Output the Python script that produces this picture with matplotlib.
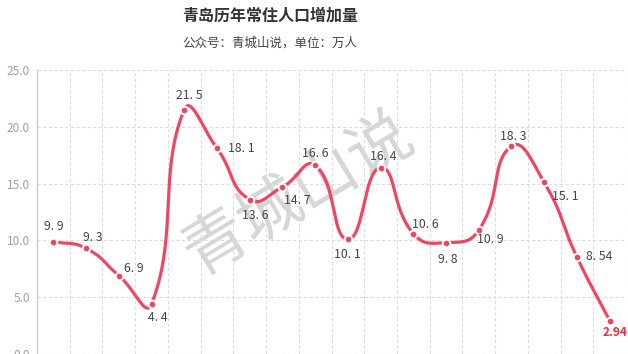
import numpy as np
import matplotlib
matplotlib.use('Agg')
import matplotlib.pyplot as plt

plt.rcParams['font.family'] = ['Noto Sans CJK SC', 'DejaVu Sans']

# 常住人口增加量, 万人
values = [9.9, 9.3, 6.9, 4.4, 21.5, 18.1, 13.6, 14.7, 16.6, 10.1,
          16.4, 10.6, 9.8, 10.9, 18.3, 15.1, 8.54, 2.94]
labels = ['9.9', '9.3', '6.9', '4.4', '21.5', '18.1', '13.6', '14.7', '16.6', '10.1',
          '16.4', '10.6', '9.8', '10.9', '18.3', '15.1', '8.54', '2.94']
# label offsets in pixels (dx, dy up)
offsets = [(0, 15), (7, 11), (15, 7), (6, -13), (5, 14), (24, 0), (6, -16), (15, -13),
           (0, 12), (0, -15), (3, 11), (12, 9), (2, -17), (12, -9), (2, 10), (21, -14),
           (22, 0), (5, -12)]
yticks = [0, 5, 10, 15, 20, 25]

line_color = '#EE4763'

fig = plt.figure(figsize=(6.28, 3.54), dpi=100)
ax = fig.add_axes([37 / 628, 0.0, 589 / 628, 284 / 354])
n = len(values)
x = np.arange(n)
ax.set_xlim(-0.5, n - 0.5)
ax.set_ylim(0, 25)

# echarts-like smooth bezier, done in pixel space
pts = ax.transData.transform(np.column_stack([x, values]))
smooth = 0.5


def ctrl(i):
    p = pts[i]
    prev = pts[i - 1] if i > 0 else p
    nxt = pts[i + 1] if i < n - 1 else p
    v = (nxt - prev) * smooth
    d0 = np.hypot(*(p - prev))
    d1 = np.hypot(*(nxt - p))
    s = d0 + d1
    if s == 0:
        return p, p
    return p - v * d0 / s, p + v * d1 / s


curve = []
t = np.linspace(0, 1, 40)[:, None]
for i in range(n - 1):
    p0 = pts[i]
    p3 = pts[i + 1]
    p1 = ctrl(i)[1]
    p2 = ctrl(i + 1)[0]
    seg = ((1 - t) ** 3) * p0 + 3 * ((1 - t) ** 2) * t * p1 + 3 * (1 - t) * t ** 2 * p2 + t ** 3 * p3
    curve.append(seg)
curve = np.vstack(curve)
cdata = ax.transData.inverted().transform(curve)

ax.plot(cdata[:, 0], cdata[:, 1], color=line_color, lw=2.3, solid_capstyle='round', zorder=3)
ax.plot(x, values, 'o', color=line_color, ms=5.5, mec='white', mew=1.4, zorder=4)

for i in range(n):
    dx, dy = offsets[i]
    if i == n - 1:
        ax.annotate(labels[i], (x[i], values[i]), xytext=(dx * 0.72, dy * 0.72),
                    textcoords='offset points', ha='center', va='center',
                    fontsize=8.5, color='#F0283C', fontweight='bold', zorder=5)
    else:
        ax.annotate(labels[i].replace('.', '. '), (x[i], values[i]), xytext=(dx * 0.72, dy * 0.72),
                    textcoords='offset points', ha='center', va='center',
                    fontsize=8.8, color='#444444', zorder=5)

# grid
ax.set_yticks(yticks)
ax.set_yticklabels(['%.1f' % v for v in yticks])
ax.set_xticks(np.arange(-0.5, n + 0.5, 1))
ax.set_xticklabels([])
ax.grid(True, ls=(0, (3, 2)), color='#DDDDDD', lw=0.8, zorder=0)
ax.tick_params(axis='both', length=0, pad=5, labelsize=8.5, labelcolor='#A0A0A0')
for s in ['top', 'right', 'bottom']:
    ax.spines[s].set_visible(False)
ax.spines['left'].set_color('#CCCCCC')
ax.spines['left'].set_linewidth(1)

# watermark, below the line
ax.text(298 / 628, 1 - 194 / 354, '青城山说', transform=fig.transFigure, fontsize=46,
        fontweight='light', color='#D6D6D6', rotation=31, ha='center', va='center', zorder=1)

fig.text(270 / 628, 1 - 16 / 354, '青岛历年常住人口增加量', fontsize=11.5, fontweight='bold',
         color='#333333', ha='center', va='center')
fig.text(270 / 628, 1 - 43 / 354, '公众号：青城山说，单位：万人', fontsize=9,
         color='#444444', ha='center', va='center')

fig.savefig('out.png', dpi=100)
